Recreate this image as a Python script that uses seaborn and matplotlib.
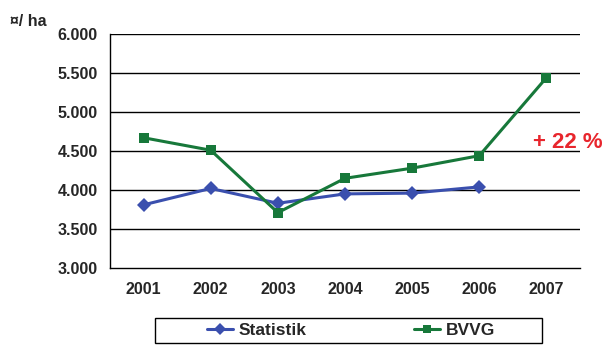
import pandas as pd
import numpy as np
import matplotlib
matplotlib.use("Agg")
import matplotlib.pyplot as plt
from matplotlib.patches import Rectangle
import seaborn as sns

# Werte (Euro / ha)
years = [2001, 2002, 2003, 2004, 2005, 2006, 2007]
statistik = [3810, 4020, 3830, 3950, 3960, 4040, np.nan]
bvvg = [4670, 4510, 3710, 4150, 4280, 4440, 5440]
y_ticks = [3000, 3500, 4000, 4500, 5000, 5500, 6000]
y_labels = ["3.000", "3.500", "4.000", "4.500", "5.000", "5.500", "6.000"]

sns.set_style("white")
plt.rcParams["font.family"] = ["Liberation Sans", "DejaVu Sans"]
plt.rcParams["font.weight"] = "bold"

df = pd.DataFrame({
    "Jahr": years * 2,
    "Preis": statistik + bvvg,
    "Reihe": ["Statistik"] * len(years) + ["BVVG"] * len(years),
})

fig = plt.figure(figsize=(6.05, 3.45), dpi=100)
ax = fig.add_axes([110 / 605, 1 - 268 / 345, 470 / 605, 234 / 345])

sns.lineplot(
    data=df, x="Jahr", y="Preis", hue="Reihe", style="Reihe",
    palette={"Statistik": "#3a4fae", "BVVG": "#17783a"},
    markers={"Statistik": "D", "BVVG": "s"}, dashes=False,
    markersize=7, linewidth=2.2, markeredgewidth=0, ax=ax, legend=False,
)

ax.set_xlim(years[0] - 0.5, years[-1] + 0.5)
ax.set_ylim(y_ticks[0], y_ticks[-1])
ax.set_xticks(years)
ax.set_xticklabels([str(y) for y in years], fontsize=11.5, fontweight="bold")
ax.set_yticks(y_ticks)
ax.set_yticklabels(y_labels, fontsize=11.5, fontweight="bold")
ax.set_xlabel("")
ax.set_ylabel("")

for y in y_ticks[1:]:
    ax.axhline(y, color="black", linewidth=1.0, zorder=0)

for side in ["top", "right"]:
    ax.spines[side].set_visible(False)
for side in ["left", "bottom"]:
    ax.spines[side].set_color("black")
    ax.spines[side].set_linewidth(1.0)
ax.tick_params(axis="y", direction="out", length=5, width=1, color="black", pad=4)
ax.tick_params(axis="x", length=0, pad=10)

fig.text(10 / 605, 1 - 22 / 345, "¤/ ha", fontsize=11.5, fontweight="bold", va="center")
fig.text(603 / 605, 1 - 143 / 345, "+ 22 %", fontsize=16, fontweight="bold",
         color="#e8262d", ha="right", va="center")

# Legendenrahmen
fig.patches.append(Rectangle((155 / 605, 2 / 345), 387 / 605, 25 / 345,
                             transform=fig.transFigure, fill=False,
                             edgecolor="black", linewidth=1.0))

handles = [
    plt.Line2D([], [], color="#3a4fae", marker="D", markersize=6, linewidth=2.2, markeredgewidth=0),
    plt.Line2D([], [], color="#17783a", marker="s", markersize=6, linewidth=2.2, markeredgewidth=0),
]
leg = fig.legend(
    handles, ["Statistik", "BVVG"], ncol=2,
    bbox_to_anchor=(351 / 605, 1 - 330 / 345), loc="center",
    frameon=False, handlelength=1.5, columnspacing=6.2,
    handletextpad=0.3, prop={"weight": "bold", "size": 12.5},
)

fig.savefig("out.png", dpi=100)
